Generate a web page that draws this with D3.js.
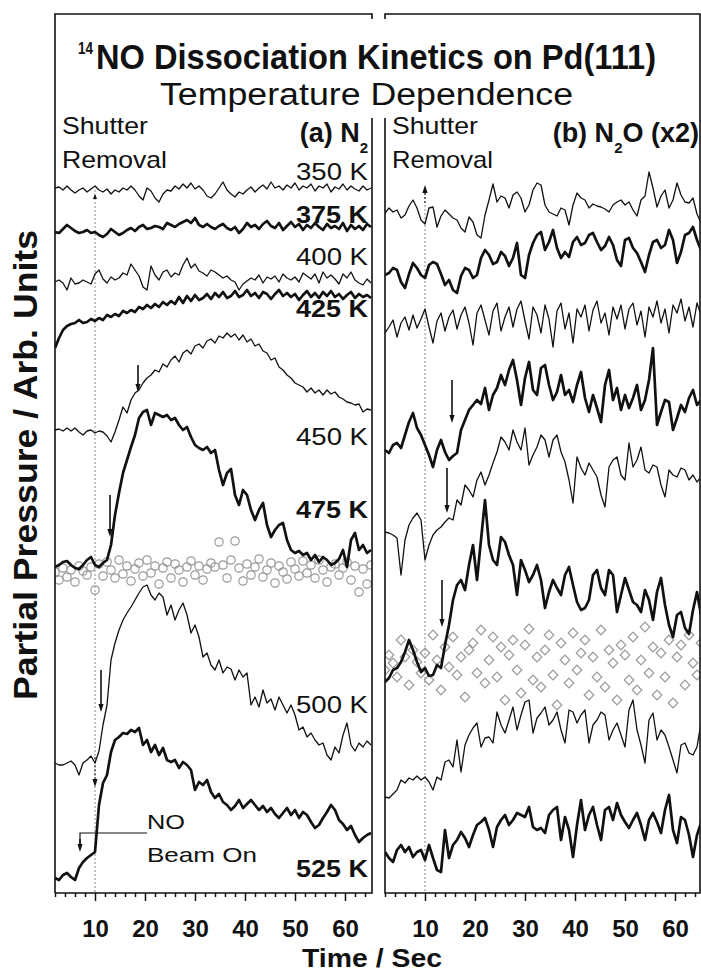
<!DOCTYPE html>
<html>
<head>
<meta charset="utf-8">
<script src="https://cdn.jsdelivr.net/npm/d3@7"></script>
<style>
body { margin: 0; background: #fff; }
svg text { font-family: "Liberation Sans", Arial, Helvetica, sans-serif; fill: #111; }
</style>
</head>
<body>
<script>
// sampling of every trace: t = T0 + i * DT (seconds)
const T0 = 2, DT = 0.8;

// (a) N2 traces, values relative to each trace's offset (arb. units)
const n2_350 = [2,3,0,4,0,-3,0,2,-2,1, 4,0,-2,1,-4,0,-2,2,0,4, 0,-6,-10,2,-1,-8,-12,-4,0,-1, 4,1,6,2,7,1,4,0,-6,-8, -4,2,8,0,-4,-7,-2,-4,0,3, -2,2,5,1,8,2,4,0,5,2, 7,0,4,2,6,-1,4,2,6,-2, 3,1,6,0,4,1,-1,4,0,2];
const n2_375 = [0,-1,3,7,4,1,-1,0,2,-1, 0,-3,-5,-2,3,0,-3,-1,2,4, 1,5,7,3,4,6,5,3,9,7, 5,8,10,12,9,14,7,5,8,5, 3,6,8,4,2,5,-1,3,9,5, 7,3,8,11,6,4,9,2,6,10, 5,8,2,7,4,9,5,2,8,4, 6,3,9,1,7,3,6,2,8,5];
const n2_400 = [-2,0,-3,-10,2,-4,-3,0,-2,-4, 6,10,1,-3,3,0,2,7,5,16, 10,4,-7,-10,14,5,0,8,10,3, 7,5,15,22,12,16,9,7,4,10, 8,5,2,4,0,-2,-10,-4,-1,2, 0,5,-3,3,1,4,-2,6,2,0, 3,-2,7,4,1,6,-3,8,2,5, 1,-4,6,2,8,0,-3,-5,1,-3];
const n2_425 = [-48,-38,-30,-26,-24,-23,-20,-23,-22,-19, -21,-18,-20,-15,-17,-14,-16,-11,-13,-10, -12,-7,-9,-5,-8,-4,-7,-2,-5,-1, -4,3,-3,4,-1,5,0,2,6,1, 7,3,8,2,4,9,3,5,10,4, 7,2,8,6,1,6,10,4,7,3, 6,0,5,9,3,7,2,8,4,9, 3,6,1,5,8,2,6,3,5,2];
const n2_450 = [0,1,-1,2,-1,2,-2,-5,-1,0, -3,-1,-2,-6,-12,-2,10,23,17,30, 37,40,47,52,55,60,58,66,63,70, 74,68,77,80,76,84,86,82,89,91, 87,94,92,97,93,96,90,95,88,91, 84,86,79,77,70,72,63,60,55,52, 47,45,43,38,42,37,40,35,40,36, 38,33,31,28,27,25,26,18,21,20];
const n2_475 = [-2,0,3,4,0,-3,-4,0,5,8, 0,-2,2,5,20,50,72,92,105,118, 130,147,153,155,140,152,150,148,150,145, 147,140,135,138,128,120,117,115,118,112, 115,95,80,92,96,70,60,75,70,55, 45,55,62,40,28,35,40,42,25,15, 12,14,10,12,5,10,3,8,5,0, 2,6,15,-2,25,32,15,20,12,15];
const n2_500 = [2,0,0,2,4,0,-10,2,5,9, 2,14,40,60,105,122,135,145,152,158, 165,172,178,180,170,165,172,168,150,160, 145,155,162,150,132,140,128,108,112,100, 95,105,92,98,96,85,95,88,92,60, 68,58,75,62,66,55,68,60,52,60, 50,35,38,28,32,25,20,22,10,5, 18,12,30,42,20,14,22,18,24,20];
const n2_525 = [2,0,5,7,3,0,12,18,22,25, 28,75,97,105,128,140,143,147,146,150, 148,152,135,140,128,135,125,132,120,118, 120,112,118,115,110,90,98,95,100,88, 82,86,78,75,70,74,80,72,76,80, 75,70,74,68,72,66,62,67,72,65, 70,62,68,65,58,52,55,62,68,75, 70,60,56,50,54,45,38,42,45,47];
const n2_background = [0,-8,4,-5,2,-10,6,1,-3,5, -18,8,-4,10,2,-6,12,-2,6,-9, 3,9,-4,12,-1,6,-12,4,10,-6, 8,2,-10,5,11,-3,6,-8,3,9, 5,30,7,-6,12,31,4,-9,8,-3, 5,13,-5,2,9,-11,6,0,-7,10, 3,-4,11,-1,7,-6,12,2,-10,5, 8,-3,4,10,-8,6,-20,3,-12,7];

// (b) N2O (x2) traces
const n2o_350 = [-3,2,-2,0,-8,-5,4,10,2,-10, -14,2,3,-17,-6,0,-4,-8,-10,-18, -22,-7,-12,-25,-28,-5,10,26,8,14, 12,2,15,18,12,-2,5,20,27,25, 5,-2,-4,-6,2,0,-15,5,17,12, 10,2,6,4,3,1,-2,5,8,10, 5,8,0,-6,10,14,38,22,3,14, 20,2,10,27,15,8,7,12,-4,-13];
const n2o_375 = [-5,-3,2,0,-12,-18,-4,7,2,-5, -8,5,8,6,-4,-15,-10,-20,-23,-6, 2,0,-8,-5,12,20,15,6,8,18, 14,4,12,27,-5,-8,15,27,35,38, 20,28,40,22,12,18,13,28,33,25, 27,35,37,28,20,24,33,25,10,4, 30,32,22,17,8,-2,15,28,30,22, 25,40,30,7,18,35,37,43,30,20];
const n2o_400 = [-8,-2,5,-12,2,8,-5,10,-3,6, 16,-2,-18,4,12,-6,8,15,-4,10, 18,2,-20,12,20,5,-10,14,22,-6, 8,18,-2,16,24,4,-14,18,10,-8, 20,6,-22,14,22,-4,12,-18,16,8, 20,-6,15,24,2,12,-10,18,6,20, -4,16,22,0,14,-12,18,8,24,2, 16,-8,20,12,26,4,18,-2,22,10];
const n2o_425 = [-10,-13,-5,-3,-8,5,18,27,12,5, -5,-15,-27,-10,0,-12,-20,-16,-13,10, 20,30,35,40,36,52,30,45,52,65, 55,70,80,60,35,62,78,50,45,72, 75,55,40,48,65,45,50,38,55,68, 42,28,45,32,18,55,70,40,52,30, 45,32,42,55,30,40,60,92,15,28, 40,38,10,22,35,28,42,50,35,40];
const n2o_450 = [-2,-3,-5,-8,-45,-10,5,12,17,10, -30,-15,-5,0,3,8,12,10,30,25, 45,40,33,50,58,45,55,67,78,93, 88,80,100,88,80,102,65,75,83,95, 90,73,90,95,78,68,50,27,73,62, 55,67,60,53,35,23,63,70,73,55, 50,87,63,70,83,60,57,65,63,45, 33,60,55,53,62,60,50,55,48,53];
const n2o_475 = [-12,-8,0,2,8,18,30,20,8,-2, 2,-6,-5,5,2,25,45,70,85,90, 80,105,125,90,130,170,125,110,105,133, 128,115,105,75,110,100,88,95,105,90, 62,78,90,82,75,95,103,85,68,60, 62,70,95,100,82,75,100,95,58,75, 92,80,68,65,58,80,70,50,78,92, 65,45,33,55,58,42,36,60,78,55];
const n2o_500 = [-17,-18,-14,-10,0,-3,2,0,4,0, 3,-2,-10,3,0,18,20,13,40,8, 35,45,52,57,33,42,43,37,68,55, 47,60,73,50,65,78,80,47,62,67, 73,55,60,68,50,37,70,68,57,65, 70,37,55,60,68,65,40,50,57,45, 33,70,80,50,35,17,60,67,40,50, 45,33,20,7,35,37,27,25,33,57];
const n2o_525 = [-2,-8,-12,0,5,-2,3,-7,-2,0, -10,5,-8,-20,-22,20,-8,5,10,18, 12,3,15,25,28,32,20,3,23,30, 35,25,30,37,35,33,43,23,20,22, 17,35,40,43,10,33,20,-7,25,50, 20,35,43,25,10,40,43,30,47,35, 28,22,30,37,25,10,30,37,28,17, 40,55,20,7,33,30,15,-7,15,27];
const n2o_background = [-5,10,2,-12,25,8,-20,15,3,-8, 12,-15,30,5,-25,18,-2,28,-10,8, -32,15,22,-8,35,-18,5,28,-12,18, -35,10,25,-5,-28,20,36,-15,8,-22, 15,30,-10,-40,22,5,-18,32,-5,12, 25,-30,8,-12,35,-22,15,2,-35,20, 10,-15,28,-25,5,38,-8,18,-30,12, -12,25,-38,8,20,-20,30,2,-10,22];

const temps = ["350 K", "375 K", "400 K", "425 K", "450 K", "475 K", "500 K", "525 K"];
const thick = [false, true, false, true, false, true, false, true];
const n2Offsets = [703, 661, 613, 593, 463, 328, 128, 13];
const n2oOffsets = [683, 623, 568, 453, 363, 223, 113, 43];
const tempLabelLevels = [713, 670, 628, 576, 448, 375, 180, 16];
const n2BackgroundOffset = 321, n2oBackgroundOffset = 228;

// onset arrows {t, from, to} in data units
const n2Arrows = [{t: 18.6, from: 528, to: 501}, {t: 13, from: 398, to: 356}, {t: 11.2, from: 223, to: 181}];
const n2oArrows = [{t: 15.4, from: 513, to: 470}, {t: 14.4, from: 425, to: 380}, {t: 13.4, from: 313, to: 266}];
const shutterTime = 10;

const majorTicks = [10, 20, 30, 40, 50, 60];
const minorTicks = d3.range(2, 66, 2).filter(d => d % 10 !== 0);

const width = 701, height = 972;
const svg = d3.select("body").append("svg")
    .attr("width", width).attr("height", height)
    .attr("viewBox", [0, 0, width, height]);

const xA = d3.scaleLinear().domain([2, 65.4]).range([55, 372]);
const xB = d3.scaleLinear().domain([2, 65]).range([385, 700]);
const y = d3.scaleLinear().domain([0, 780]).range([893, 113]);

const panels = [
    {id: "a", x: xA, traces: [n2_350, n2_375, n2_400, n2_425, n2_450, n2_475, n2_500, n2_525],
     offsets: n2Offsets, bg: n2_background, bgOffset: n2BackgroundOffset, arrows: n2Arrows, marker: "circle"},
    {id: "b", x: xB, traces: [n2o_350, n2o_375, n2o_400, n2o_425, n2o_450, n2o_475, n2o_500, n2o_525],
     offsets: n2oOffsets, bg: n2o_background, bgOffset: n2oBackgroundOffset, arrows: n2oArrows, marker: "diamond"}
];

function arrow(g, x, y1, y2, dashed) {
    let dir = y2 > y1 ? 1 : -1;
    g.append("line")
        .attr("x1", x).attr("x2", x)
        .attr("y1", y1).attr("y2", y2 - dir * 6)
        .attr("stroke", "#111")
        .attr("stroke-width", dashed ? 1 : 1.6)
        .attr("stroke-dasharray", dashed ? "2,2" : null);
    g.append("path")
        .attr("d", `M${x},${y2} L${x - 2.6},${y2 - dir * 8} L${x + 2.6},${y2 - dir * 8} Z`)
        .attr("fill", "#111");
}

panels.forEach(p => {
    let x = p.x;
    let x0 = x.range()[0], x1 = x.range()[1];
    let g = svg.append("g");

    svg.append("clipPath").attr("id", "clip-" + p.id)
        .append("rect")
        .attr("x", x0).attr("y", 14).attr("width", x1 - x0).attr("height", 893 - 14);

    let plot = g.append("g").attr("clip-path", `url(#clip-${p.id})`);

    // shutter removal line
    plot.append("line")
        .attr("x1", x(shutterTime)).attr("x2", x(shutterTime))
        .attr("y1", y(p.id === "a" ? 703 : 700)).attr("y2", y(0))
        .attr("stroke", "#888").attr("stroke-width", 1)
        .attr("stroke-dasharray", "2,2");

    // background (beam blocked) points
    let bg = plot.append("g");
    if (p.marker === "circle") {
        bg.selectAll("circle").data(p.bg).join("circle")
            .attr("cx", (d, i) => x(T0 + i * DT))
            .attr("cy", d => y(p.bgOffset + d))
            .attr("r", 4.2)
            .attr("fill", "none").attr("stroke", "#9a9a9a").attr("stroke-width", 1.2);
    } else {
        bg.selectAll("path").data(p.bg).join("path")
            .attr("d", d3.symbol(d3.symbolSquare, 46))
            .attr("transform", (d, i) => `translate(${x(T0 + i * DT)},${y(p.bgOffset + d)}) rotate(45)`)
            .attr("fill", "none").attr("stroke", "#9a9a9a").attr("stroke-width", 1.2);
    }

    // traces
    p.traces.forEach((tr, k) => {
        let line = d3.line()
            .x((d, i) => x(T0 + i * DT))
            .y(d => y(p.offsets[k] + d));
        plot.append("path")
            .datum(tr)
            .attr("d", line)
            .attr("fill", "none")
            .attr("stroke", "#111")
            .attr("stroke-width", thick[k] ? 2.7 : 1.3)
            .attr("stroke-linejoin", "round");
    });

    // arrows
    p.arrows.forEach(a => arrow(g, x(a.t), y(a.from), y(a.to), false));

    // axis
    let ax = g.append("g").attr("transform", "translate(0,893)");
    ax.call(d3.axisBottom(x).tickValues(minorTicks).tickSize(4).tickFormat(""))
        .call(a => a.select(".domain").remove());
    let axMajor = g.append("g").attr("transform", "translate(0,893)");
    axMajor.call(d3.axisBottom(x).tickValues(majorTicks).tickSize(8).tickFormat(d3.format("d")))
        .call(a => a.select(".domain").remove());
    axMajor.selectAll("text")
        .attr("y", 44).attr("dy", 0)
        .style("font-size", "24px").style("font-weight", "bold")
        .style("font-family", "'Liberation Sans', Arial, sans-serif").attr("fill", "#111");
    g.selectAll(".tick line").attr("stroke", "#111").attr("stroke-width", 1.5);
});

// frames (the inner borders break for the title)
svg.append("path")
    .attr("d", "M55,893 V14 H372 V19 M372,118 V893 H55 M385,19 V14 H700 V893 H385 V118")
    .attr("fill", "none").attr("stroke", "#111").attr("stroke-width", 1.6);

// right-panel shutter arrowhead
arrow(svg, xB(shutterTime), y(690), y(708), true);
svg.append("path")
    .attr("d", `M${xA(shutterTime)},${y(699)} l-2,5 l4,0 Z`).attr("fill", "#111");

// 525 K dotted onset arrow and NO beam-on annotation
arrow(svg, xA(10), y(136), y(106), true);
svg.append("path")
    .attr("d", `M${xA(20.4)},${y(60)} H${xA(7)} V${y(48)}`)
    .attr("fill", "none").attr("stroke", "#111").attr("stroke-width", 1.2);
arrow(svg, xA(7), y(54), y(41), false);

// temperature labels
temps.forEach((t, k) => {
    svg.append("text")
        .attr("x", 368).attr("y", y(tempLabelLevels[k]))
        .attr("text-anchor", "end")
        .attr("font-size", 24)
        .attr("font-weight", thick[k] ? "bold" : "normal")
        .attr("textLength", 72).attr("lengthAdjust", "spacingAndGlyphs")
        .text(t);
});

// text annotations
function label(txt, x, yy, size, weight, len) {
    let t = svg.append("text").attr("x", x).attr("y", yy)
        .attr("font-size", size).attr("font-weight", weight).text(txt);
    if (len) t.attr("textLength", len).attr("lengthAdjust", "spacingAndGlyphs");
    return t;
}
label("Shutter", 62, 134, 24, "normal", 86);
label("Removal", 62, 168, 24, "normal", 105);
label("Shutter", 392, 134, 24, "normal", 86);
label("Removal", 392, 168, 24, "normal", 101);
label("NO", 147, 829, 21, "normal", 38);
label("Beam On", 147, 862, 21, "normal", 110);

let la = svg.append("text").attr("x", 368).attr("y", 142).attr("text-anchor", "end")
    .attr("font-size", 27).attr("font-weight", "bold");
la.append("tspan").text("(a) N");
la.append("tspan").attr("dy", 11).attr("font-size", 15).text("2");

let lb = svg.append("text").attr("x", 699).attr("y", 142).attr("text-anchor", "end")
    .attr("font-size", 27).attr("font-weight", "bold");
lb.append("tspan").text("(b) N");
lb.append("tspan").attr("dy", 11).attr("font-size", 15).text("2");
lb.append("tspan").attr("dy", -11).text("O (x2)");

// title
label("14", 78, 54, 16, "bold", 15);
label("NO Dissociation Kinetics on Pd(111)", 96, 69, 35, "bold", 560);
label("Temperature Dependence", 160, 105, 31, "normal", 413);

// axis titles
svg.append("text")
    .attr("x", 372).attr("y", 967).attr("text-anchor", "middle")
    .attr("font-size", 25).attr("font-weight", "bold")
    .attr("textLength", 140).attr("lengthAdjust", "spacingAndGlyphs")
    .text("Time / Sec");
svg.append("text")
    .attr("transform", "translate(37,465) rotate(-90)")
    .attr("text-anchor", "middle")
    .attr("font-size", 34).attr("font-weight", "bold")
    .attr("textLength", 470).attr("lengthAdjust", "spacingAndGlyphs")
    .text("Partial Pressure / Arb. Units");
</script>
</body>
</html>
